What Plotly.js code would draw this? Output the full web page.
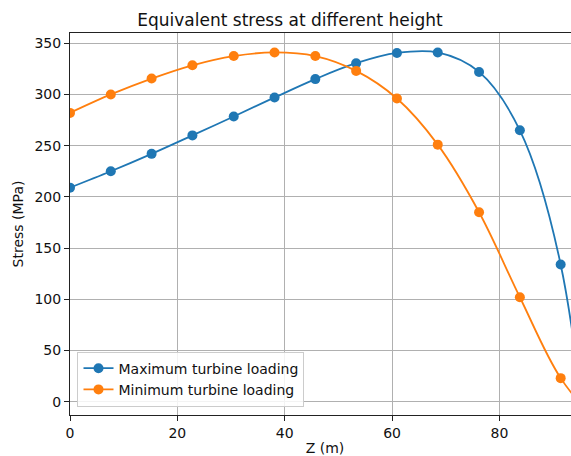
<!DOCTYPE html>
<html>
<head>
<meta charset="utf-8">
<script src="https://cdn.plot.ly/plotly-3.0.1.min.js"></script>
<style>
html,body{margin:0;padding:0;overflow:hidden;background:#fff;}
#chart{width:580px;height:456px;}
</style>
</head>
<body>
<div id="chart"></div>
<script>
// Heights along the tower (m); last point lies beyond the visible axis range
const heightZ = [0, 7.6, 15.2, 22.8, 30.5, 38.1, 45.7, 53.3, 60.9, 68.5, 76.2, 83.8, 91.4, 99.0];
// Equivalent stress (MPa)
const maxLoading = [209, 225, 242, 260, 278.5, 297, 315, 330.5, 340.5, 341, 322, 265, 134, -180];
const minLoading = [282, 300, 315.5, 328.5, 337.5, 341, 337.5, 323, 296, 251, 185, 102, 23, -25];
const seriesNames = ["Maximum turbine loading", "Minimum turbine loading"];
const seriesColors = ["#1f77b4", "#ff7f0e"];
const xTicks = [0, 20, 40, 60, 80];
const yTicks = [0, 50, 100, 150, 200, 250, 300, 350];

const mk = (y, i) => ({
  x: heightZ, y: y, name: seriesNames[i], type: "scatter", mode: "lines+markers",
  line: {color: seriesColors[i], width: 1.8, shape: "spline", smoothing: 1},
  marker: {color: seriesColors[i], size: 10},
  cliponaxis: true
});

const font = "DejaVu Sans, sans-serif";
const txt = "#111";
const layout = {
  width: 580, height: 456,
  margin: {l: 69.5, r: 0, t: 33, b: 41, pad: 0},
  paper_bgcolor: "#fff", plot_bgcolor: "#fff",
  font: {family: font, size: 14, color: txt},
  title: {text: "Equivalent stress at different height", font: {family: font, size: 17, color: txt},
          x: 0.5, xanchor: "center", y: 1 - 20/456, yanchor: "middle"},
  xaxis: {range: [0, 95], tickvals: xTicks, ticktext: xTicks.map(String),
          showgrid: true, gridcolor: "#b0b0b0", gridwidth: 1, zeroline: false,
          showline: true, linecolor: "#222", linewidth: 1, mirror: true,
          ticks: "outside", ticklen: 5, tickcolor: "#222", tickwidth: 1,
          tickfont: {family: font, size: 14, color: txt},
          title: {text: "Z (m)", font: {family: font, size: 14, color: txt}, standoff: 4}},
  yaxis: {range: [-13, 360], tickvals: yTicks, ticktext: yTicks.map(String),
          showgrid: true, gridcolor: "#b0b0b0", gridwidth: 1, zeroline: false,
          showline: true, linecolor: "#222", linewidth: 1, mirror: true,
          ticks: "outside", ticklen: 5, tickcolor: "#222", tickwidth: 1,
          tickfont: {family: font, size: 14, color: txt},
          title: {text: "Stress (MPa)", font: {family: font, size: 14, color: txt}, standoff: 7}},
  showlegend: true,
  legend: {x: 0.0147, y: 0.022, xanchor: "left", yanchor: "bottom",
           bgcolor: "rgba(255,255,255,0.85)", bordercolor: "#cccccc", borderwidth: 1,
           font: {family: font, size: 14, color: txt}, tracegroupgap: 0, itemwidth: 30}
};

Plotly.newPlot("chart", [mk(maxLoading, 0), mk(minLoading, 1)], layout, {staticPlot: true, displayModeBar: false});
</script>
</body>
</html>
